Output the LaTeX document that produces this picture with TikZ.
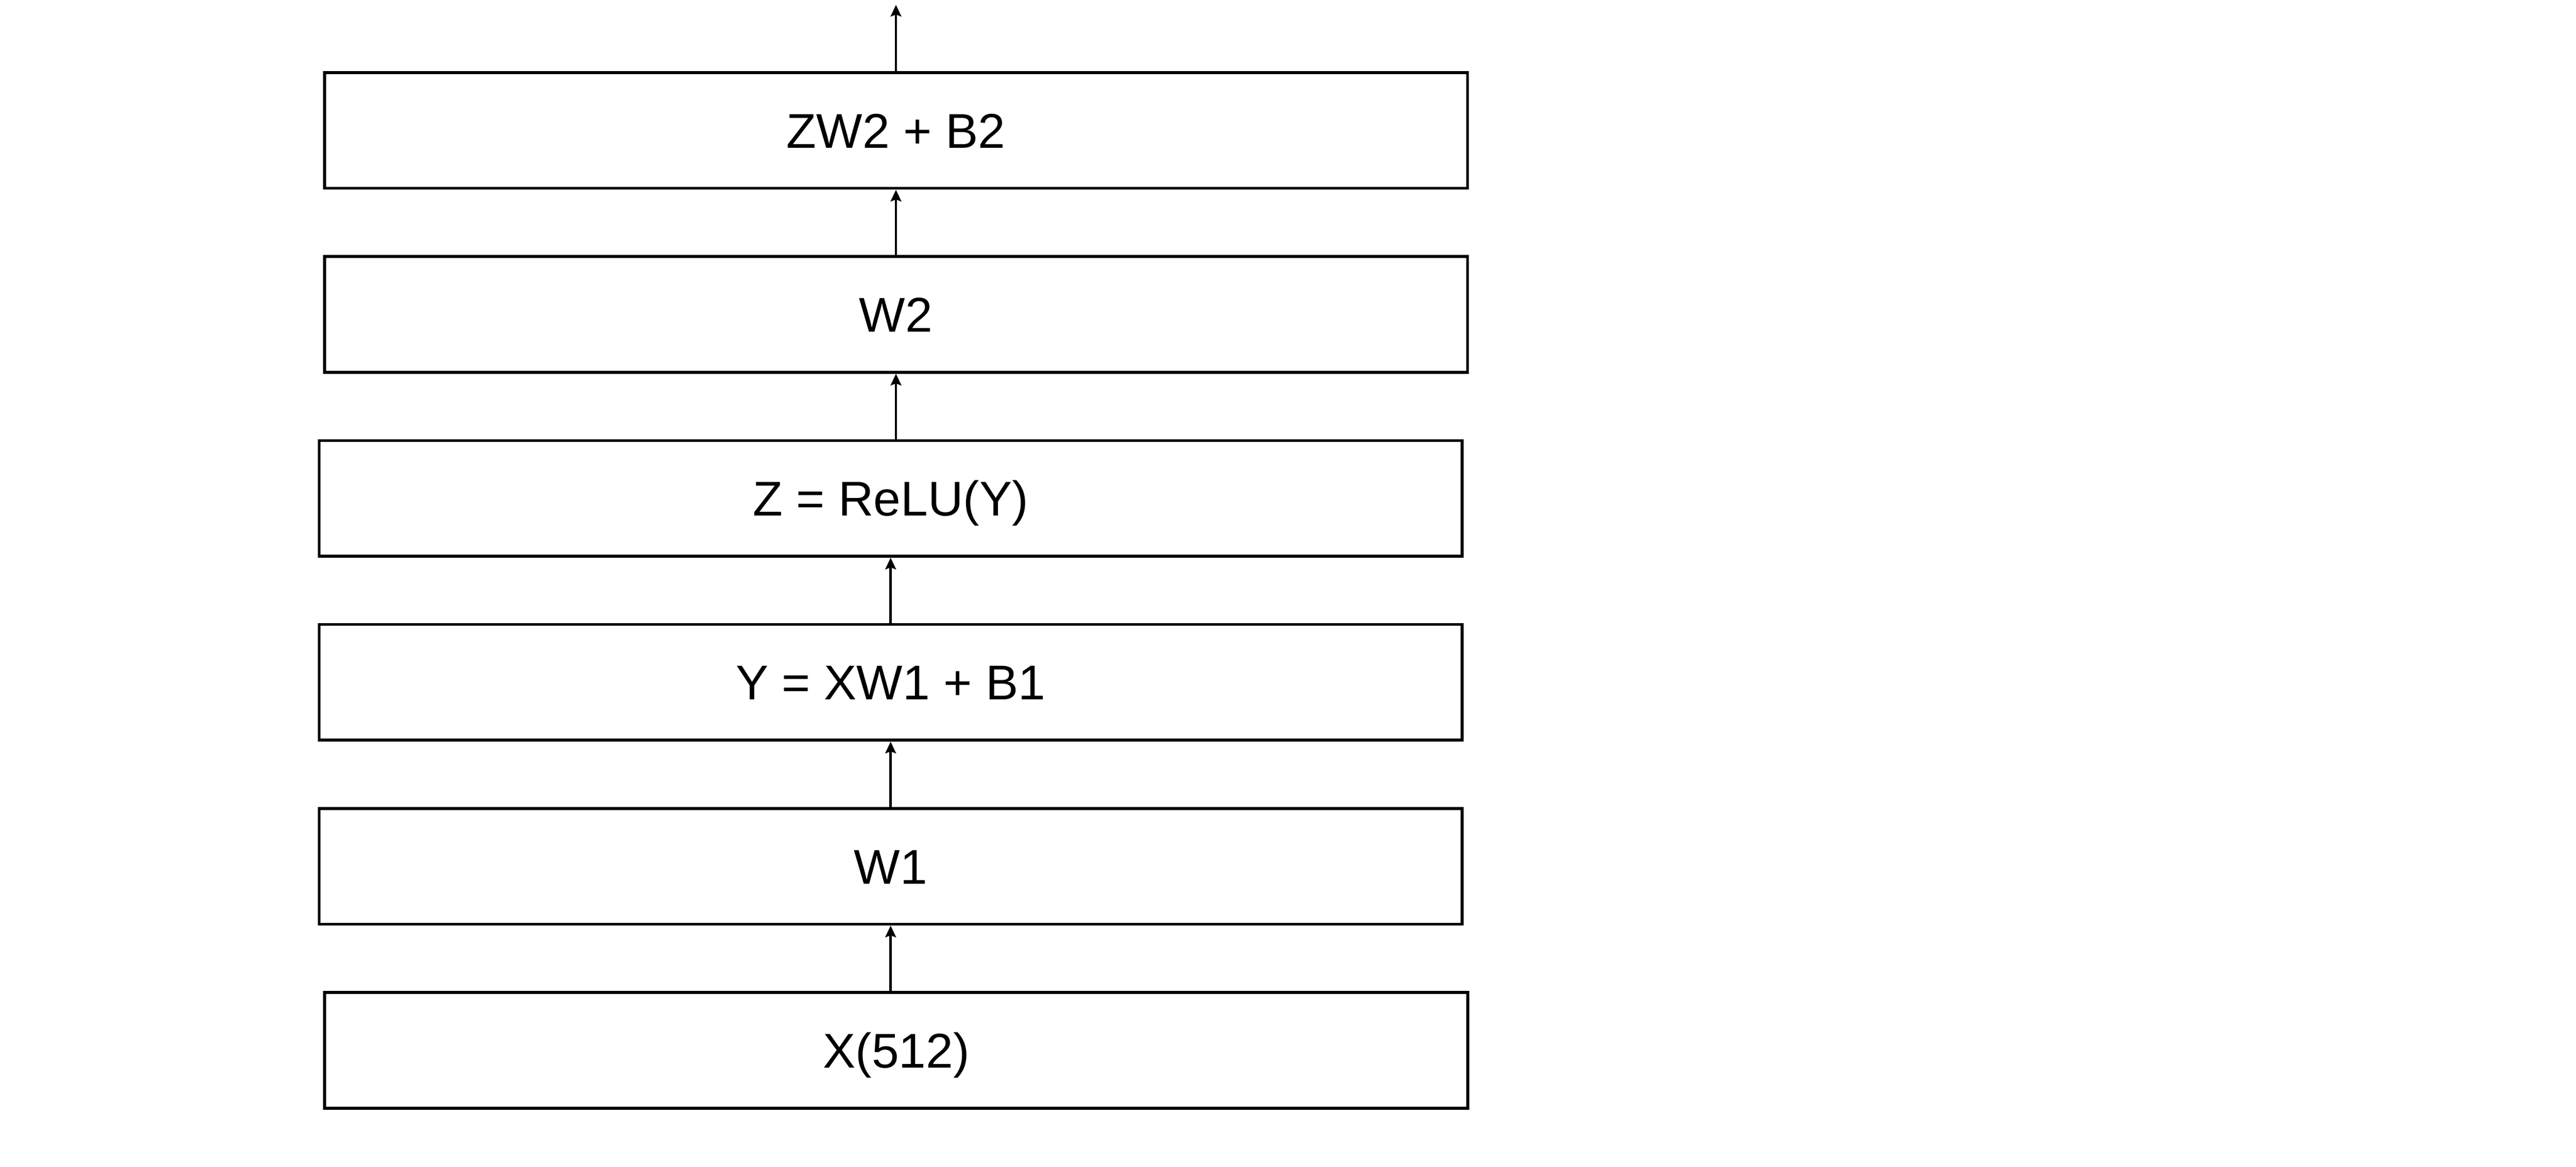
\documentclass[tikz,border=0pt]{standalone}
\usepackage{fontspec}
\setmainfont{Liberation Sans}
\usetikzlibrary{arrows.meta}
\begin{document}
\begin{tikzpicture}
      % Define styles for nodes
      \tikzstyle{layer} = [draw, rectangle, line width=1.7pt,
      minimum width=23.6cm, minimum height=2.39cm, inner sep=0pt,
      fill=white, text height=20.5pt, text depth=0pt,
      font=\fontsize{28.7}{34}\selectfont]
      \tikzstyle{flow} = [line width=1.4pt,
      -{Stealth[length=0.24cm,width=0.22cm,inset=0.04cm]}]

      % Page size
      \useasboundingbox (0,0) rectangle (53.19,24.10);

      % Layers from input to output
      \node[layer] (X) at (18.505,2.405) {X(512)};
      \node[layer] (W1) at (18.39,6.205) {W1};
      \node[layer] (Y) at (18.39,10.005) {Y = XW1 + B1};
      \node[layer] (Z) at (18.39,13.805) {Z = ReLU(Y)};
      \node[layer] (W2) at (18.50,17.605) {W2};
      \node[layer] (ZW2) at (18.50,21.405) {ZW2 + B2};
      \coordinate (out) at (18.50,24.00);

      % Connections
      \draw[flow] (W1.south |- X.north) -- (W1.south);
      \draw[flow] (Y.south |- W1.north) -- (Y.south);
      \draw[flow] (Z.south |- Y.north) -- (Z.south);
      \draw[flow] (W2.south |- Z.north) -- (W2.south);
      \draw[flow] (ZW2.south |- W2.north) -- (ZW2.south);
      \draw[flow] (ZW2.north) -- (out);
    \end{tikzpicture}
\end{document}
